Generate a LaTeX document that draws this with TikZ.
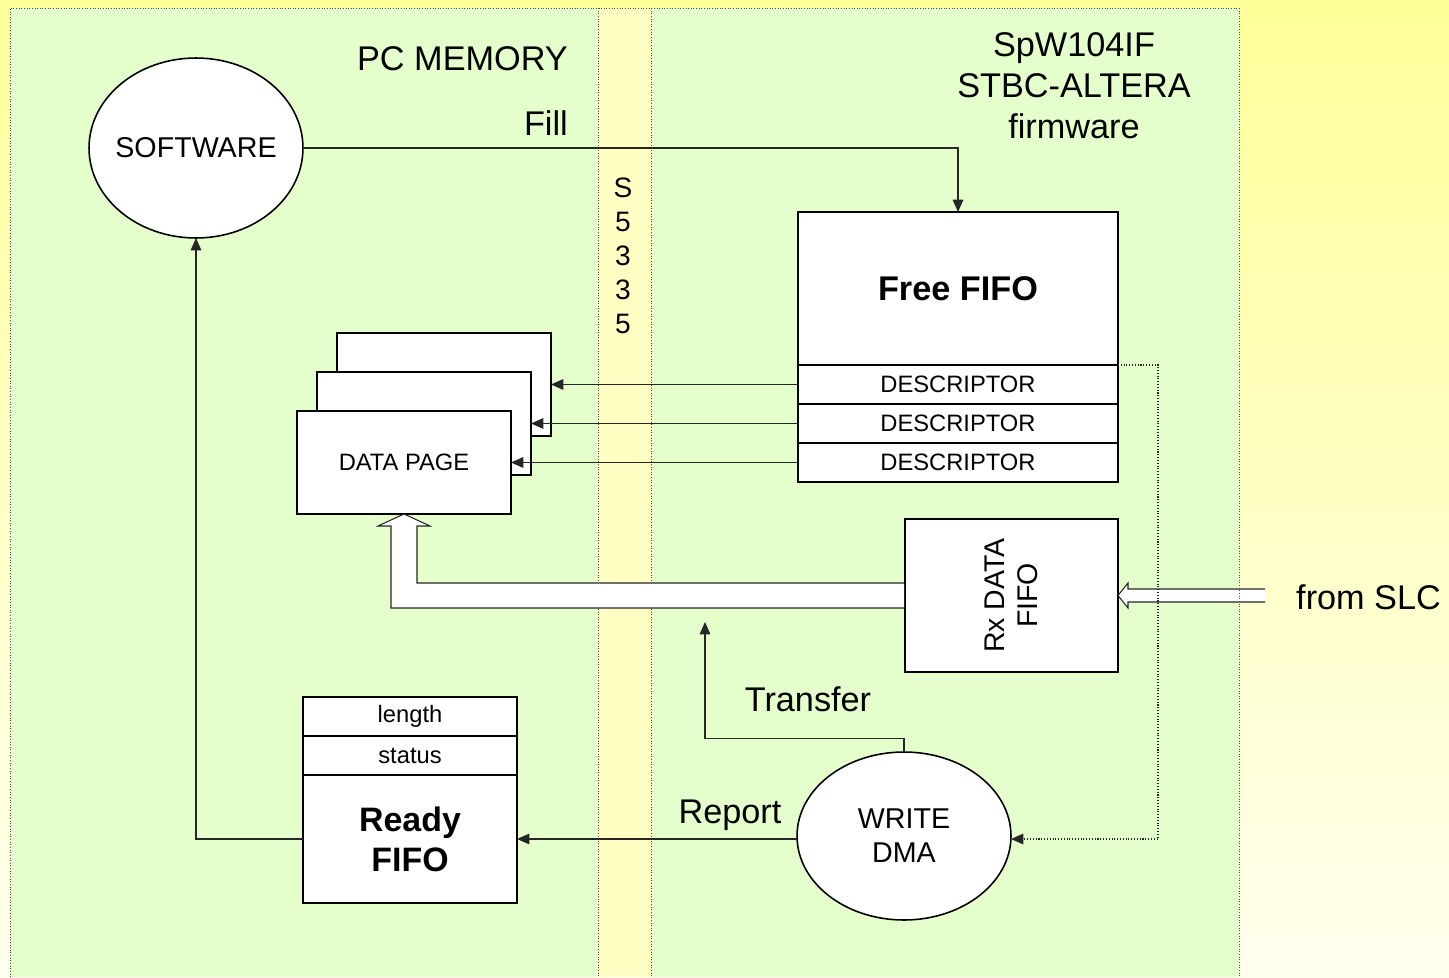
\documentclass[tikz,border=0pt]{standalone}
\usepackage{fontspec}
\setmainfont{Liberation Sans}
\usetikzlibrary{shapes,arrows,positioning,calc,arrows.meta}

\definecolor{panelgreen}{RGB}{229,255,204}
\definecolor{busyellow}{RGB}{255,255,196}
\definecolor{bgyellow}{RGB}{255,255,153}
\definecolor{bgpale}{RGB}{255,255,238}

\tikzset{
  box/.style={draw, line width=1.1pt, fill=white, inner sep=0pt, outer sep=0pt, minimum width=4.28cm},
  row/.style={box, minimum height=0.78cm, font=\fontsize{13.5}{16}\selectfont},
  proc/.style={draw, ellipse, line width=0.9pt, fill=white, inner sep=0pt, outer sep=0pt, align=center, font=\fontsize{16.3}{19.3}\selectfont},
  conn/.style={line width=0.6pt, black!85, -{Triangle[length=7pt,width=6pt]}},
  lbl/.style={font=\fontsize{19.5}{23.3}\selectfont},
  wide/.style={fill=white, line width=0.6pt, draw=black!85},
  border/.style={densely dotted, line width=0.5pt, black!70}
}

\begin{document}
\begin{tikzpicture}[x=0.02cm, y=-0.02cm]
    % Background
    \useasboundingbox (0,0) rectangle (1449,977);
    \shade[top color=bgyellow, middle color=bgyellow!75!bgpale, bottom color=bgpale] (0,0) rectangle (1449,977);
    \fill[panelgreen] (10,8) rectangle (1239,977);
    \fill[busyellow] (598,8) rectangle (651,977);

    % Rx DATA FIFO and input from SLC
    \node[box, minimum width=4.26cm, minimum height=3.06cm] (rx) at (1011.5,595.5) {};
    \node[rotate=90, align=center, font=\fontsize{16.2}{18.8}\selectfont] (rxlbl) at (rx) {Rx DATA\\FIFO};
    \node[lbl, anchor=west] (slc) at (1290,597) {from SLC};
    \coordinate (slcend) at (1265,595.5);
    \draw[wide] ($(slcend)+(0,-6.5)$) -- ($(rx.east)+(10,-6.5)$) -- ++(0,-6) -- (rx.east)
        -- ++(10,12.5) -- ++(0,-6) -- ($(slcend)+(0,6.5)$);

    % Panel borders
    \draw[border] (10,977) -- (10,8) -- (1239,8) -- (1239,977);
    \draw[border] (598,8) -- (598,977) (651,8) -- (651,977);

    % Titles
    \node[lbl, anchor=east] (pcmem) at (574,59) {PC MEMORY};
    \node[lbl, align=center] (fw) at (1074,86) {SpW104IF\\STBC-ALTERA\\firmware};
    \node[font=\fontsize{16}{19.3}\selectfont, align=center] (bus) at (623,256) {S\\5\\3\\3\\5};

    % Processes
    \node[proc, inner xsep=-4pt, minimum width=4.28cm, minimum height=3.6cm] (sw) at (196,148) {SOFTWARE};
    \node[proc, minimum width=4.28cm, minimum height=3.36cm] (dma) at (904,836) {WRITE\\DMA};

    % Free FIFO with descriptors
    \node[box, minimum width=6.4cm, minimum height=3.06cm, font=\bfseries\fontsize{19.5}{23}\selectfont] (free) at (958,288.5) {Free FIFO};
    \foreach \i/\prev in {1/free, 2/desc1, 3/desc2}
        \node[row, minimum width=6.4cm, below=0pt of \prev] (desc\i) {DESCRIPTOR};

    % Data pages (back to front)
    \foreach \i/\x/\y/\txt in {1/444/384.5/{}, 2/424/423.5/{}, 3/404/462.5/{DATA PAGE}}
        \node[box, minimum height=2.06cm, font=\fontsize{13.5}{16}\selectfont] (page\i) at (\x,\y) {\txt};

    % Ready FIFO
    \node[box, minimum height=2.56cm, align=center, font=\bfseries\fontsize{19.3}{22.8}\selectfont] (ready) at (410,839) {Ready\\FIFO};
    \node[row, above=0pt of ready] (status) {status};
    \node[row, above=0pt of status] (length) {length};

    % Connectors
    \draw[conn] (sw.east) -| (free.north);
    \node[lbl, anchor=east] (fill) at (574,123) {Fill};
    \foreach \i in {1,2,3}
        \draw[conn] (desc\i.west) -- (desc\i.west -| page\i.east);
    \draw[wide] ($(rx.west)+(-1,-12.5)$) -| ($(page3.south)+(13,12)$) -- ++(13,0) -- (page3.south)
        -- ++(-26,12) -- ++(13,0) |- ($(rx.west)+(-1,12.5)$);
    \coordinate (xfer) at (705,622);
    \draw[conn] (dma.north) -- ++(0,-14) -| (xfer);
    \node[lbl] (transfer) at (808,699) {Transfer};
    \draw[conn] (dma.west |- ready.east) -- (ready.east);
    \node[lbl] (report) at (730,815) {Report};
    \draw[conn] (ready.west) -| (sw.south);
    \draw[conn, densely dotted] (free.south east) -- ++(40,0) |- (dma.east |- ready.east);
\end{tikzpicture}
\end{document}
